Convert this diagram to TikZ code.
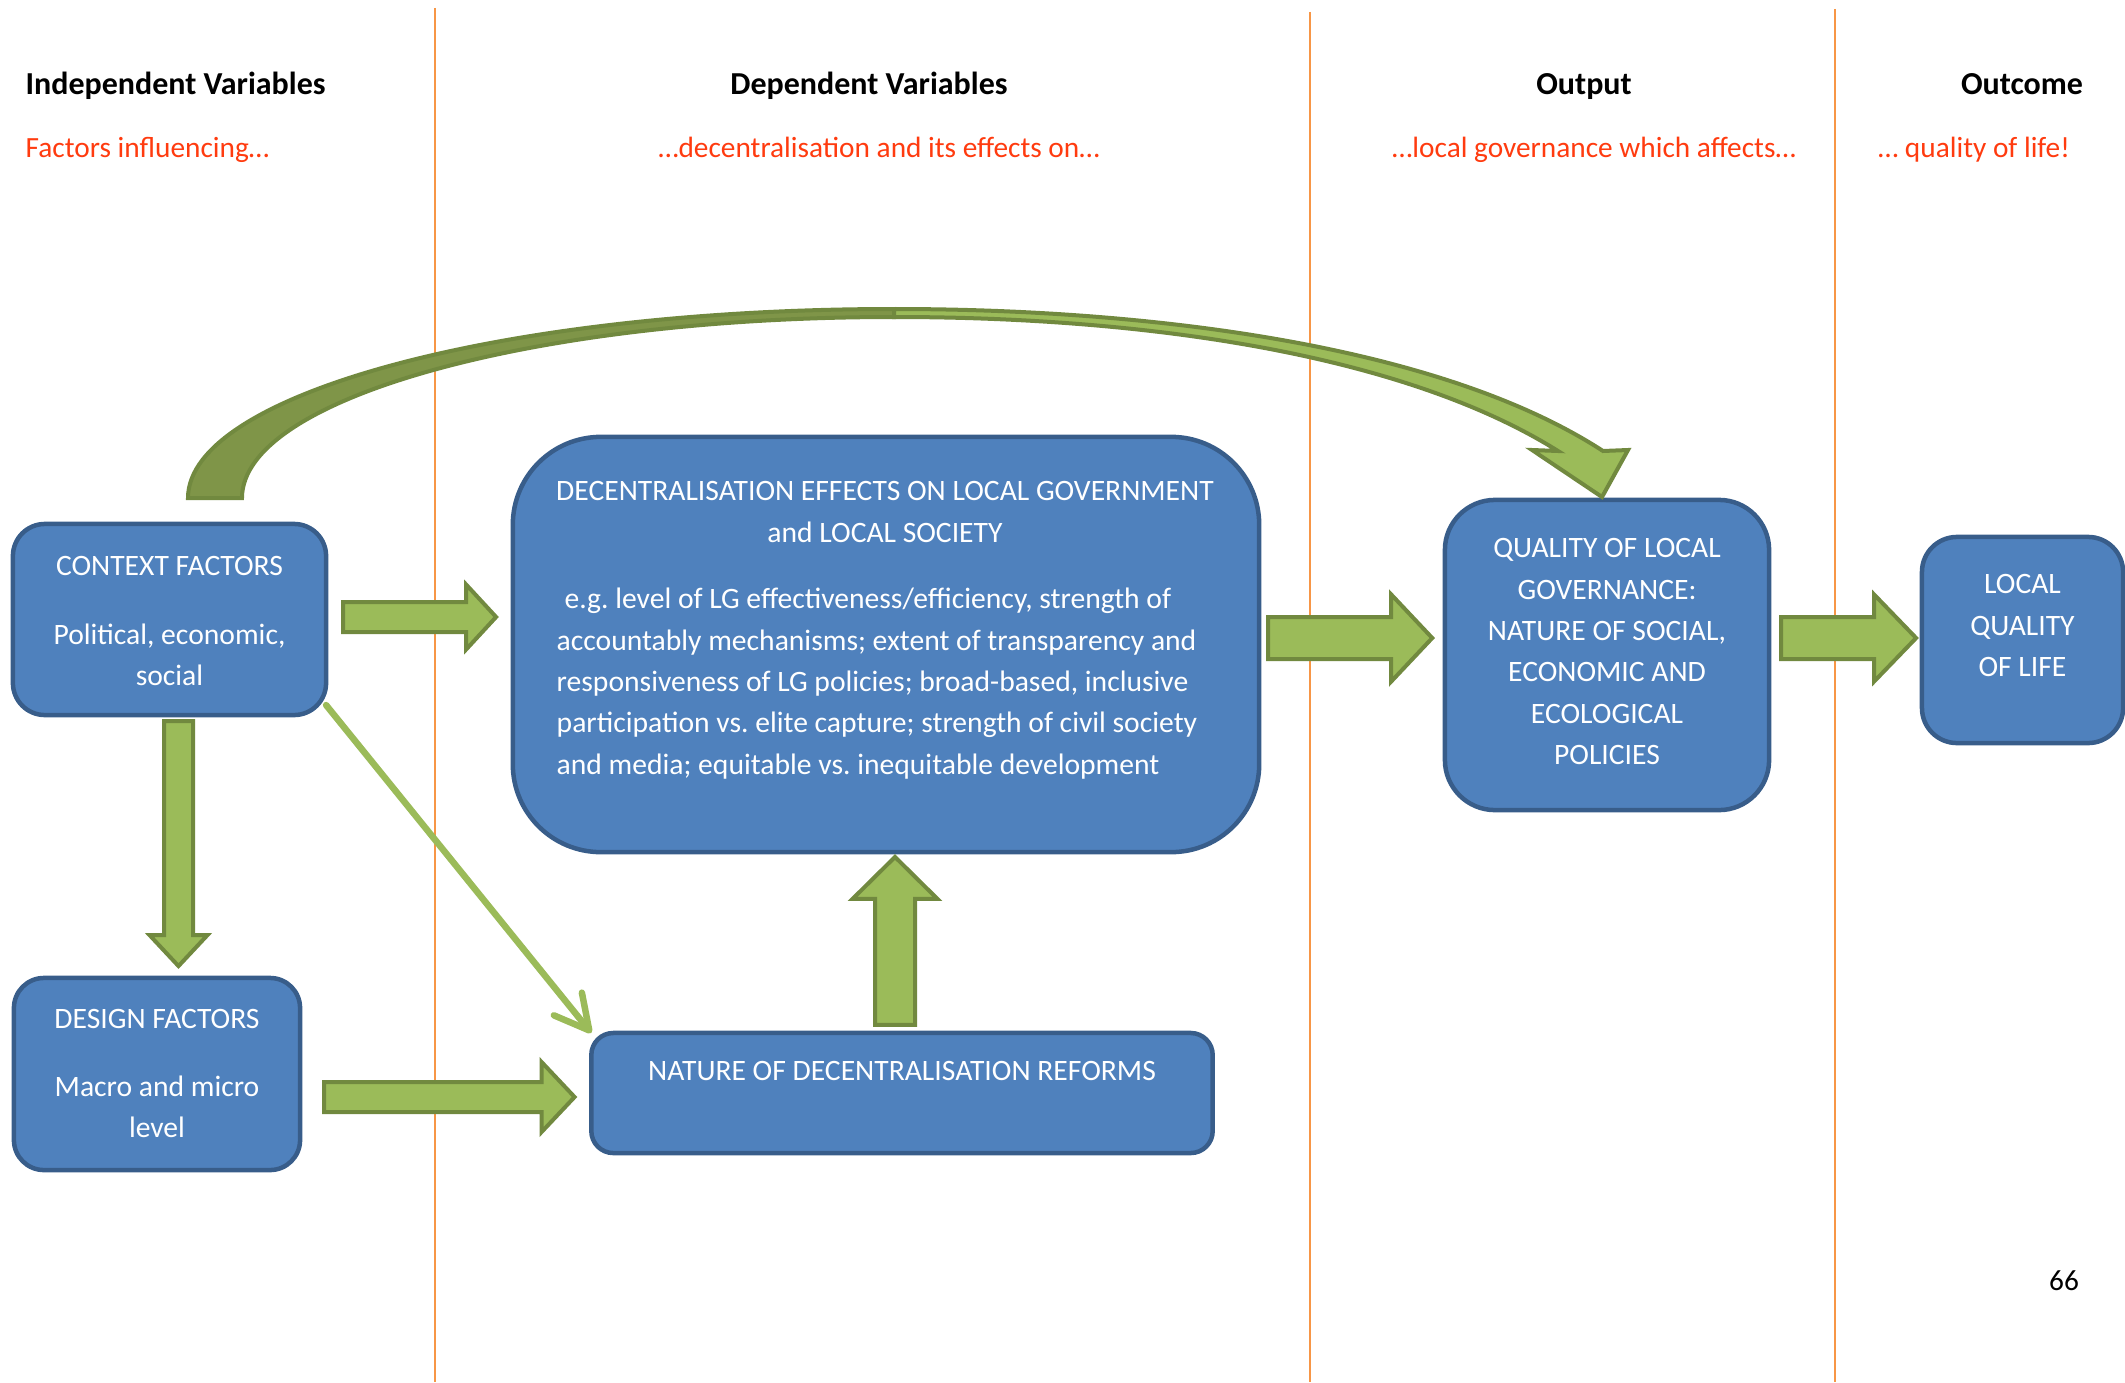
\documentclass[tikz,border=0pt]{standalone}
\usepackage{fontspec}
\setmainfont{Carlito}
\usetikzlibrary{arrows.meta,calc}
\frenchspacing

\definecolor{boxblue}{HTML}{4F81BD}
\definecolor{boxedge}{HTML}{385D8A}
\definecolor{leafgreen}{HTML}{9BBB59}
\definecolor{leafedge}{HTML}{71893F}
\definecolor{olivedark}{HTML}{7F9548}
\definecolor{lineorange}{HTML}{F79646}
\definecolor{leadred}{HTML}{FF3B0F}

% block arrow: direction, tail, length, shaft half, head half, head length
\newcommand{\fatarrow}[6]{%
  \draw[greenblock, shift={#2}, rotate=#1]
    (0,-#4) -- (#3-#6,-#4) -- (#3-#6,-#5) -- (#3,0) -- (#3-#6,#5) -- (#3-#6,#4) -- (0,#4) -- cycle;}

\begin{document}
\begin{tikzpicture}[x=0.01cm, y=-0.01cm,
    bluebox/.style={draw=boxedge, fill=boxblue, line width=0.045cm, inner sep=0pt, outer sep=0pt},
    boxtext/.style={text=white, font=\fontsize{8.42}{11.78}\selectfont, align=center, inner sep=0pt, anchor=north},
    headtext/.style={font=\bfseries\fontsize{9.1}{10}\selectfont, inner sep=0pt, anchor=base},
    leadtext/.style={text=leadred, font=\fontsize{8.34}{10}\selectfont, inner sep=0pt, anchor=base},
    greenblock/.style={draw=leafedge, fill=leafgreen, line width=0.04cm, line join=miter},
    colline/.style={draw=lineorange, line width=0.02cm}]

		\useasboundingbox (0,0) rectangle (2125,1382);

		% make the column lines
		\draw[colline] (435,8) -- (435,1382);
		\draw[colline] (1310,12) -- (1310,1382);
		\draw[colline] (1835,9) -- (1835,1382);

		% make the column headings
		\node[headtext, anchor=base west] (hind) at (25,95) {Independent Variables};
		\node[headtext] (hdep) at (869,95) {Dependent Variables};
		\node[headtext] (hout) at (1584,95) {Output};
		\node[headtext] (hcome) at (2022,95) {Outcome};
		\node[leadtext, anchor=base west] (lind) at (25,158) {Factors influencing…};
		\node[leadtext] (ldep) at (879,158) {…decentralisation and its effects on…};
		\node[leadtext] (lout) at (1594,158) {…local governance which affects…};
		\node[leadtext] (lcome) at (1974,158) {… quality of life!};

		% make the boxes
		\node[bluebox, minimum width=3.13cm, minimum height=1.91cm, rounded corners=0.32cm] (ctx) at (169.5,619.5) {};
		\node[bluebox, minimum width=2.86cm, minimum height=1.92cm, rounded corners=0.30cm] (des) at (157,1074) {};
		\node[bluebox, minimum width=7.46cm, minimum height=4.15cm, rounded corners=0.88cm] (eff) at (886,644.5) {};
		\node[bluebox, minimum width=6.21cm, minimum height=1.20cm, rounded corners=0.22cm] (nat) at (902,1093) {};
		\node[bluebox, minimum width=3.24cm, minimum height=3.10cm, rounded corners=0.50cm] (qual) at (1607,655) {};
		\node[bluebox, minimum width=2.01cm, minimum height=2.06cm, rounded corners=0.35cm] (loc) at (2022.5,640) {};

		% make the box texts
		\node[boxtext] (ctxtext) at ($(ctx.north)+(0,22)$) {\strut CONTEXT FACTORS\\[0.27cm] Political, economic,\\ social};
		\node[boxtext] (destext) at ($(des.north)+(0,21)$) {\strut DESIGN FACTORS\\[0.26cm] Macro and micro\\ level};
		\node[boxtext] (efftitle) at ($(eff.north)+(-1,34)$) {\strut DECENTRALISATION EFFECTS ON LOCAL GOVERNMENT\\ and LOCAL SOCIETY};
		\node[boxtext, align=left, anchor=north west] (effbody) at (556,579) {\strut\hspace*{0.08cm}e.g. level of LG effectiveness/efficiency, strength of\\
			accountably mechanisms; extent of transparency and\\
			responsiveness of LG policies; broad-based, inclusive\\
			participation vs. elite capture; strength of civil society\\
			and media; equitable vs. inequitable development};
		\node[boxtext] (nattext) at ($(nat.north)+(0,18)$) {\strut NATURE OF DECENTRALISATION REFORMS};
		\node[boxtext] (qualtext) at ($(qual.north)+(0,28)$) {\strut QUALITY OF LOCAL\\ GOVERNANCE:\\ NATURE OF SOCIAL,\\ ECONOMIC AND\\ ECOLOGICAL\\ POLICIES};
		\node[boxtext] (loctext) at ($(loc.north)+(0,27)$) {\strut LOCAL\\ QUALITY\\ OF LIFE};

		% make the block arrows
		\fatarrow{0}{($(ctx.east)+(17,-2.5)$)}{153}{15}{32.5}{30}
		\fatarrow{-90}{($(ctx.south)+(9,6)$)}{245}{14.5}{29}{31}
		\fatarrow{0}{($(des.east)+(24,23)$)}{250.5}{15}{35}{33}
		\fatarrow{90}{($(nat.north)+(-7,-8)$)}{168}{20}{42.5}{42}
		\fatarrow{0}{($(eff.east)+(9,-6.5)$)}{164}{21}{43.5}{41}
		\fatarrow{0}{($(qual.east)+(12,-17)$)}{135}{21}{43.5}{42}

		% make the thin arrow
		\draw[leafgreen, line width=0.065cm, line cap=round, -{Straight Barb[length=0.34cm, width=0.36cm, round]}] ($(ctx.south east)+(0,-10)$) -- (nat.north west);

		% make the curved arrow
		\draw[draw=leafedge, fill=olivedark, line width=0.04cm] (188,498) .. controls (188,394) and (504,309) .. (894,309) -- (894,317) .. controls (535,317) and (242,398) .. (242,498) -- cycle;
		\draw[greenblock] (894,309) .. controls (1150,309) and (1440,345) .. (1603,451) -- (1628,450) -- (1602,497) -- (1532,450) -- (1558,451) .. controls (1405,355) and (1150,317) .. (894,317) -- cycle;

		% page number
		\node[inner sep=0pt, anchor=base, font=\fontsize{8.34}{10}\selectfont] (pnum) at (2064,1290) {66};

\end{tikzpicture}
\end{document}
